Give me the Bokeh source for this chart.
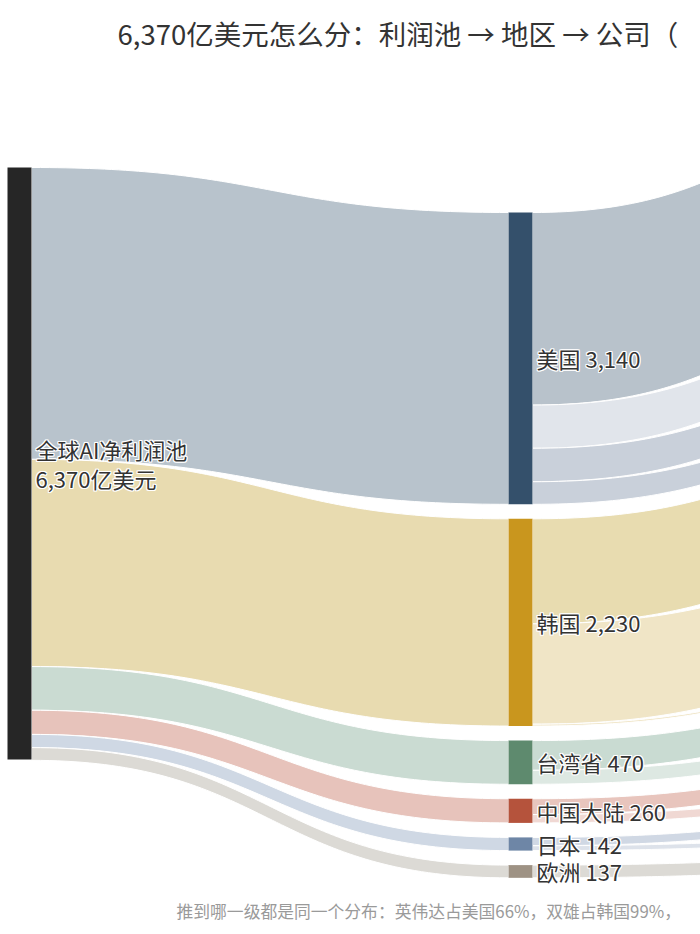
import numpy as np
from bokeh.plotting import figure
from bokeh.models import Range1d, ColumnDataSource
from bokeh.embed import file_html
from bokeh.resources import INLINE
from bokeh.core.properties import value

# ---------------- data ----------------
title_text = "6,370亿美元怎么分：利润池 → 地区 → 公司（"
footer_text = "推到哪一级都是同一个分布：英伟达占美国66%，双雄占韩国99%，"
root_lines = ["全球AI净利润池", "6,370亿美元"]
root_total = 6370

regions = ["美国", "韩国", "台湾省", "中国大陆", "日本", "欧洲"]
region_values = [3140, 2230, 470, 260, 142, 137]
region_node_colors = ["#34506b", "#c9961e", "#5e8a6e", "#b5533c", "#6e86a6", "#9e9284"]
region_link_colors = ["#b8c3cc", "#e8dbb0", "#cadbd2", "#e7c3bb", "#cfd8e4", "#dcdad5"]

companies = ["英伟达", "博通", "微软", "其他美国", "SK海力士", "三星", "其他韩国",
             "台积电", "其他台湾", "中国A", "中国B", "日本A", "日本B", "欧洲A"]
company_region = ["美国", "美国", "美国", "美国", "韩国", "韩国", "韩国",
                  "台湾省", "台湾省", "中国大陆", "中国大陆", "日本", "日本", "欧洲"]
company_values = [2072, 465, 360, 243, 1130, 1080, 20, 320, 150, 170, 90, 90, 52, 137]
company_link_colors = ["#b8c2cb", "#e1e5eb", "#c9d0da", "#c9d0da", "#e8dcb0", "#f0e5c6", "#f0e5c6",
                       "#c9dbd2", "#dde8e2", "#e8c5bd", "#f0d8d3", "#d0d8e4", "#dde2ea", "#dcdad5"]

# ---------------- layout (sankey) ----------------
NODE_W = 24
COL_X = [7, 508, 1008]
COL_TOP = [167, 212, 85]
PAD = 14.5
POOL_PX = 592.0
k = POOL_PX / root_total


def stack(values, top):
    tops = []
    y = top
    for v in values:
        tops.append(y)
        y += v * k + PAD
    return tops


region_tops = stack(region_values, COL_TOP[1])
company_tops = stack(company_values, COL_TOP[2])


def link_path(x0, x1, a0, b0, a1, b1, n=80):
    t = np.linspace(0, 1, n)
    xm = (x0 + x1) / 2.0
    bx = (1 - t) ** 3 * x0 + 3 * (1 - t) ** 2 * t * xm + 3 * (1 - t) * t ** 2 * xm + t ** 3 * x1
    s = 3 * (1 - t) * t ** 2 + t ** 3
    top = a0 + (a1 - a0) * s
    bot = b0 + (b1 - b0) * s
    return list(np.concatenate([bx, bx[::-1]])), list(np.concatenate([top, bot[::-1]]))


lx, ly, lc = [], [], []
# root -> regions
y_src = COL_TOP[0]
for i, v in enumerate(region_values):
    h = v * k
    xs, ys = link_path(COL_X[0] + NODE_W, COL_X[1], y_src, y_src + h,
                       region_tops[i], region_tops[i] + h)
    lx.append(xs); ly.append(ys); lc.append(region_link_colors[i])
    y_src += h
# regions -> companies
offs = {r: region_tops[i] for i, r in enumerate(regions)}
for j, v in enumerate(company_values):
    r = company_region[j]
    h = v * k
    y0 = offs[r]
    xs, ys = link_path(COL_X[1] + NODE_W, COL_X[2], y0, y0 + h,
                       company_tops[j], company_tops[j] + h)
    lx.append(xs); ly.append(ys); lc.append(company_link_colors[j])
    offs[r] += h

# ---------------- figure ----------------
p = figure(width=700, height=934, x_range=Range1d(0, 700), y_range=Range1d(934, 0),
           output_backend="svg", toolbar_location=None,
           x_axis_location=None, y_axis_location=None,
           min_border=0, min_border_left=0, min_border_right=0,
           min_border_top=0, min_border_bottom=0)
p.grid.visible = False
p.outline_line_color = None
p.background_fill_color = "white"
p.border_fill_color = "white"

p.patches(xs="xs", ys="ys", fill_color="fc", line_color="white", line_width=1,
          source=ColumnDataSource(dict(xs=lx, ys=ly, fc=lc)))

# nodes
p.quad(left=[COL_X[0]], right=[COL_X[0] + NODE_W], top=[COL_TOP[0]],
       bottom=[COL_TOP[0] + root_total * k], fill_color="#262626", line_color=None)
p.quad(left=[COL_X[1]] * len(regions), right=[COL_X[1] + NODE_W] * len(regions),
       top=region_tops, bottom=[t + v * k for t, v in zip(region_tops, region_values)],
       fill_color=region_node_colors, line_color=None)
p.quad(left=[COL_X[2]] * len(companies), right=[COL_X[2] + NODE_W] * len(companies),
       top=company_tops, bottom=[t + v * k for t, v in zip(company_tops, company_values)],
       fill_color="#888888", line_color=None)

FONT = value("Noto Sans CJK SC")
HALO = [(-1, 0), (1, 0), (0, -1), (0, 1), (-1, -1), (1, 1), (-1, 1), (1, -1)]


def label(xs, ys, texts, size, color, halo=True):
    if halo:
        for dx, dy in HALO:
            p.text(x=xs, y=ys, text=texts, x_offset=dx, y_offset=dy, text_font=FONT,
                   text_font_size=size, text_color="white", text_align="left",
                   text_baseline="middle")
    p.text(x=xs, y=ys, text=texts, text_font=FONT, text_font_size=size,
           text_color=color, text_align="left", text_baseline="middle")


root_mid = COL_TOP[0] + root_total * k / 2
label([COL_X[0] + NODE_W + 4] * 2, [root_mid - 14.5, root_mid + 14.5], root_lines, "22px", "#333333")
label([COL_X[1] + NODE_W + 4] * len(regions),
      [t + v * k / 2 for t, v in zip(region_tops, region_values)],
      [f"{r} {v:,}" for r, v in zip(regions, region_values)], "22px", "#333333")

p.text(x=[117], y=[32], text=[title_text], text_font=FONT, text_font_size="27.5px",
       text_color="#333333", text_align="left", text_baseline="middle")
p.text(x=[176], y=[910], text=[footer_text], text_font=FONT, text_font_size="16.8px",
       text_color="#9a9a9a", text_align="left", text_baseline="middle")

open("out.html", "w").write(file_html(p, INLINE))
